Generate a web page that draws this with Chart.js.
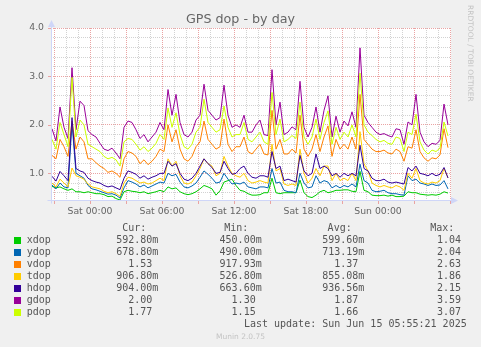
<!DOCTYPE html>
<html>
<head>
<meta charset="utf-8">
<script src="https://cdn.jsdelivr.net/npm/chart.js@4.4.0/dist/chart.umd.min.js"></script>
<style>
  html, body { margin: 0; padding: 0; background: #f0f0f0; }
  #wrap { position: relative; width: 481px; height: 347px; overflow: hidden; background: #f0f0f0; }
  #c { position: absolute; left: 0; top: 0; }
  .t { position: absolute; white-space: pre; }
  .mono { font-family: "DejaVu Sans Mono", monospace; font-size: 10px; line-height: 12px; color: #555; }
  #title { left: 0; width: 481px; top: 11px; text-align: center; font-family: "DejaVu Sans", sans-serif;
           font-size: 12.7px; line-height: 16px; color: #666; }
  #wm { left: 474.5px; top: 5px; transform: rotate(90deg); transform-origin: left top;
        font-family: "DejaVu Sans", sans-serif; font-size: 7.5px; line-height: 9px; color: #c4c4c4; }
  #ver { left: 0; width: 481px; top: 332px; text-align: center; font-family: "DejaVu Sans", sans-serif;
         font-size: 7.5px; line-height: 9px; color: #c4c4c4; }
  .sw { position: absolute; width: 7px; height: 7px; }
</style>
</head>
<body>
<div id="wrap">
  <canvas id="c" width="481" height="347"></canvas>
  <div id="title" class="t">GPS dop - by day</div>
  <div id="wm" class="t">RRDTOOL / TOBI OETIKER</div>
  <div id="legend"></div>
  <div id="ver" class="t">Munin 2.0.75</div>
</div>
<script>
// Sample times: minutes relative to Sat 00:00, one sample every 20 minutes
const startMinute = -190;
const stepMinutes = 20;

const seriesNames  = ['xdop', 'ydop', 'vdop', 'tdop', 'hdop', 'gdop', 'pdop'];
const seriesColors = ['#00CC00', '#0066B3', '#FF8000', '#FFCC00', '#330099', '#990099', '#CCFF00'];

const xdop = [0.73,0.70,0.72,0.68,0.65,0.68,0.62,0.62,0.60,0.62,
  0.60,0.58,0.58,0.56,0.52,0.53,0.48,0.45,0.62,
  0.65,0.63,0.62,0.60,0.62,0.58,0.60,0.62,0.65,
  0.62,0.72,0.68,0.70,0.62,0.58,0.56,0.58,0.62,
  0.68,0.75,0.72,0.68,0.55,0.64,0.82,0.85,0.88,
  0.75,0.65,0.63,0.58,0.55,0.55,0.56,0.60,0.60,
  0.90,0.60,0.58,0.60,0.60,0.60,0.60,0.86,0.60,
  0.52,0.50,0.55,0.62,0.65,0.60,0.62,0.65,0.65,
  0.66,0.66,0.63,0.62,1.04,0.65,0.62,0.55,0.54,
  0.54,0.55,0.53,0.55,0.52,0.52,0.53,0.62,0.60,
  0.60,0.57,0.56,0.55,0.56,0.55,0.57,0.62,0.5928];

const ydop = [0.76,0.68,0.80,0.72,0.70,2.04,1.00,0.95,0.90,0.75,
  0.68,0.66,0.63,0.60,0.57,0.58,0.55,0.49,0.70,
  0.85,0.82,0.78,0.72,0.76,0.70,0.74,0.78,0.82,
  0.80,1.00,0.95,0.98,0.82,0.72,0.70,0.74,0.80,
  0.92,1.05,0.98,0.90,0.80,0.82,1.00,0.88,0.78,
  0.80,0.78,0.82,0.72,0.70,0.68,0.72,0.72,0.70,
  1.10,0.80,0.82,0.65,0.62,0.62,0.60,1.00,0.80,
  0.70,0.72,0.95,0.80,0.85,0.82,0.70,0.75,0.70,
  0.75,0.72,0.78,0.72,1.19,0.85,0.80,0.65,0.62,
  0.63,0.65,0.60,0.58,0.58,0.56,0.55,0.95,0.85,
  0.88,0.80,0.78,0.75,0.78,0.75,0.76,0.85,0.6788];

const vdop = [1.37,1.30,1.70,1.55,1.35,2.08,1.50,1.75,1.65,1.30,
  1.30,1.22,1.15,1.10,1.02,1.05,1.00,0.918,1.30,
  1.45,1.42,1.35,1.20,1.28,1.18,1.25,1.35,1.50,
  1.45,2.00,1.65,1.90,1.50,1.30,1.25,1.35,1.55,
  1.65,2.08,1.70,1.60,1.50,1.55,2.12,1.60,1.45,
  1.55,1.55,1.75,1.45,1.40,1.50,1.60,1.40,1.38,
  2.30,1.50,1.70,1.40,1.40,1.50,1.42,2.20,1.50,
  1.35,1.50,1.80,1.45,1.75,1.98,1.35,1.70,1.50,
  1.60,1.50,1.75,1.50,2.63,1.70,1.60,1.50,1.45,
  1.45,1.48,1.42,1.40,1.50,1.45,1.25,1.55,1.52,
  1.90,1.45,1.32,1.25,1.32,1.30,1.38,1.92,1.53];

const tdop = [0.80,0.72,0.88,0.80,0.72,1.11,0.95,0.92,0.88,0.78,
  0.72,0.70,0.68,0.63,0.60,0.62,0.58,0.527,0.80,
  0.92,0.90,0.85,0.80,0.82,0.78,0.80,0.85,0.90,
  0.85,1.30,1.15,1.25,0.95,0.80,0.78,0.82,0.95,
  1.10,1.30,1.20,1.15,0.95,1.00,1.35,1.15,1.00,
  0.95,0.92,1.00,0.85,0.80,0.82,0.85,0.82,0.80,
  1.60,1.05,1.10,0.78,0.75,0.78,0.75,1.50,1.00,
  0.80,0.90,1.10,0.95,1.15,1.15,0.85,1.00,0.85,
  0.90,0.85,1.00,0.85,1.86,1.20,1.05,0.80,0.75,
  0.72,0.75,0.72,0.70,0.75,0.72,0.65,1.00,0.90,
  1.10,0.85,0.80,0.78,0.82,0.80,0.85,1.10,0.9068];

const hdop = [0.94,0.84,1.04,0.95,0.85,2.15,1.10,1.05,1.02,0.90,
  0.85,0.82,0.80,0.75,0.72,0.74,0.70,0.664,0.90,
  1.05,1.02,0.98,0.90,0.95,0.88,0.92,0.95,1.00,
  1.00,1.25,1.15,1.20,1.00,0.88,0.85,0.90,1.00,
  1.15,1.30,1.20,1.12,1.00,1.02,1.25,1.10,0.98,
  1.00,1.10,1.15,1.00,0.92,0.90,0.95,0.95,0.92,
  1.45,1.10,1.15,0.85,0.88,0.85,0.82,1.37,1.05,
  0.95,1.00,1.40,1.10,1.15,1.10,0.95,1.00,0.92,
  1.00,0.95,1.00,0.95,1.58,1.10,1.05,0.90,0.85,
  0.85,0.88,0.82,0.80,0.82,0.80,0.78,1.12,1.05,
  1.15,1.00,0.98,0.95,1.00,0.95,0.98,1.12,0.904];

const gdop = [1.92,1.67,2.37,1.95,1.72,3.18,1.90,2.49,2.40,1.88,
  1.80,1.75,1.62,1.50,1.47,1.52,1.42,1.30,1.95,
  2.08,2.05,1.90,1.72,1.80,1.65,1.75,1.85,2.05,
  1.90,2.73,2.20,2.63,2.05,1.80,1.75,1.85,2.10,
  2.20,2.84,2.30,2.20,2.10,2.15,2.82,2.20,1.95,
  2.00,1.95,2.20,1.85,1.85,2.00,2.10,1.80,1.78,
  3.14,2.00,2.47,1.80,1.85,1.96,1.90,2.90,1.95,
  1.75,1.95,2.37,1.85,2.30,2.60,1.75,2.18,1.85,
  2.08,1.98,2.27,1.95,3.59,2.20,2.05,1.95,1.85,
  1.80,1.82,1.78,1.75,1.92,1.90,1.60,2.06,2.00,
  2.63,1.85,1.65,1.55,1.62,1.60,1.68,2.43,2.00];

const pdop = [1.70,1.50,2.05,1.80,1.55,2.98,1.75,2.10,2.00,1.60,
  1.55,1.50,1.45,1.35,1.30,1.33,1.28,1.15,1.65,
  1.72,1.70,1.60,1.48,1.55,1.45,1.52,1.62,1.80,
  1.70,2.35,1.95,2.25,1.80,1.55,1.50,1.60,1.85,
  1.95,2.53,2.05,1.95,1.85,1.90,2.39,1.95,1.75,
  1.80,1.80,2.05,1.70,1.65,1.75,1.85,1.65,1.60,
  2.67,1.80,2.12,1.65,1.70,1.78,1.72,2.47,1.75,
  1.60,1.75,2.12,1.70,2.05,2.29,1.60,1.95,1.70,
  1.85,1.75,2.00,1.75,3.07,2.00,1.85,1.78,1.70,
  1.65,1.68,1.62,1.60,1.75,1.72,1.45,1.85,1.80,
  2.22,1.65,1.48,1.40,1.48,1.45,1.52,2.06,1.77];

// Legend statistics
const curText = ['592.80m', '678.80m', '1.53', '906.80m', '904.00m', '2.00', '1.77'];
const minText = ['450.00m', '490.00m', '917.93m', '526.80m', '663.60m', '1.30', '1.15'];
const avgText = ['599.60m', '713.19m', '1.37', '855.08m', '936.56m', '1.87', '1.66'];
const maxText = ['1.04', '2.04', '2.63', '1.86', '2.15', '3.59', '3.07'];
const lastUpdate = 'Last update: Sun Jun 15 05:55:21 2025';

// Axis ticks
const xTickMinutes = [0, 360, 720, 1080, 1440];
const xTickLabels  = ['Sat 00:00', 'Sat 06:00', 'Sat 12:00', 'Sat 18:00', 'Sun 00:00'];
const yTickValues  = [1, 2, 3, 4];
const yTickLabels  = ['1.0', '2.0', '3.0', '4.0'];

const MAJOR = '#eaa3a3';
const MINOR = '#d2d2d2';
const AXIS  = '#CFD6F8';

const series = [xdop, ydop, vdop, tdop, hdop, gdop, pdop];
const toPoints = arr => arr.map((v, i) => ({ x: startMinute + i * stepMinutes, y: v }));

const rrdFrame = {
  id: 'rrdFrame',
  beforeDraw(chart) {
    const { ctx, chartArea: a } = chart;
    ctx.save();
    ctx.fillStyle = '#f0f0f0';
    ctx.fillRect(0, 0, chart.width, chart.height);
    ctx.fillStyle = '#ffffff';
    ctx.fillRect(a.left, a.top, a.right - a.left, a.bottom - a.top);
    ctx.restore();
  },
  afterDraw(chart) {
    const { ctx, chartArea: a, scales } = chart;
    ctx.save();
    // short marks on major grid positions
    ctx.lineWidth = 1;
    ctx.strokeStyle = MAJOR;
    scales.x.ticks.forEach(t => {
      if (t.value % 180 === 0) {
        const px = Math.round(scales.x.getPixelForValue(t.value)) + 0.5;
        ctx.beginPath(); ctx.moveTo(px, a.bottom); ctx.lineTo(px, a.bottom + 4); ctx.stroke();
      }
    });
    yTickValues.forEach(v => {
      const py = Math.round(scales.y.getPixelForValue(v)) + 0.5;
      ctx.beginPath(); ctx.moveTo(a.left - 3, py); ctx.lineTo(a.left, py); ctx.stroke();
    });
    // axes
    ctx.strokeStyle = AXIS;
    ctx.fillStyle = AXIS;
    const ax = Math.round(a.left) + 0.5;
    const ay = Math.round(a.bottom) + 0.5;
    ctx.beginPath(); ctx.moveTo(ax, ay + 3); ctx.lineTo(ax, a.top - 2); ctx.stroke();
    ctx.beginPath(); ctx.moveTo(ax - 4, ay); ctx.lineTo(a.right + 1, ay); ctx.stroke();
    // arrow heads
    ctx.beginPath();
    ctx.moveTo(ax, a.top - 8); ctx.lineTo(ax - 3.5, a.top - 1); ctx.lineTo(ax + 3.5, a.top - 1);
    ctx.closePath(); ctx.fill();
    ctx.beginPath();
    ctx.moveTo(a.right + 7, ay); ctx.lineTo(a.right, ay - 3.5); ctx.lineTo(a.right, ay + 3.5);
    ctx.closePath(); ctx.fill();
    ctx.restore();
  }
};

new Chart(document.getElementById('c'), {
  type: 'line',
  data: {
    datasets: series.map((d, i) => ({
      label: seriesNames[i],
      data: toPoints(d),
      borderColor: seriesColors[i],
      backgroundColor: seriesColors[i],
      borderWidth: 1,
      borderJoinStyle: 'round',
      pointRadius: 0,
      tension: 0,
      fill: false,
      order: series.length - 1 - i
    }))
  },
  options: {
    responsive: false,
    animation: false,
    devicePixelRatio: 1,
    events: [],
    layout: { padding: { left: 0, right: 30, top: 28, bottom: 127 } },
    plugins: { legend: { display: false }, tooltip: { enabled: false }, title: { display: false } },
    scales: {
      x: {
        type: 'linear',
        min: -195,
        max: 1805,
        afterBuildTicks: s => {
          const t = [];
          for (let m = -180; m <= 1800; m += 60) t.push({ value: m });
          s.ticks = t;
        },
        afterFit: s => { s.height = 20; },
        grid: {
          drawTicks: false,
          lineWidth: 1,
          color: c => (c.tick && c.tick.value % 180 === 0) ? MAJOR : MINOR
        },
        border: { display: false, dash: [1, 1] },
        ticks: {
          autoSkip: false,
          maxRotation: 0,
          padding: 6,
          color: '#666',
          font: { family: 'DejaVu Sans', size: 9.3 },
          callback: v => {
            const j = xTickMinutes.indexOf(v);
            return j >= 0 ? xTickLabels[j] : '';
          }
        }
      },
      y: {
        type: 'linear',
        min: 0.45,
        max: 4.0,
        afterBuildTicks: s => {
          const t = [];
          for (let j = 3; j <= 20; j++) t.push({ value: j / 5 });
          s.ticks = t;
        },
        afterFit: s => { s.width = 51; },
        grid: {
          drawTicks: false,
          lineWidth: 1,
          color: c => (c.tick && Math.abs(c.tick.value - Math.round(c.tick.value)) < 1e-6) ? MAJOR : MINOR
        },
        border: { display: false, dash: [1, 1] },
        ticks: {
          autoSkip: false,
          padding: 7,
          color: '#666',
          font: { family: 'DejaVu Sans', size: 9.3 },
          callback: v => {
            const j = yTickValues.findIndex(y => Math.abs(y - v) < 1e-6);
            return j >= 0 ? yTickLabels[j] : '';
          }
        }
      }
    }
  },
  plugins: [rrdFrame]
});

// Legend table below the plot
const legend = document.getElementById('legend');
function put(text, opts) {
  const el = document.createElement('div');
  el.className = 't mono';
  el.textContent = text;
  if (opts.left !== undefined) el.style.left = opts.left + 'px';
  if (opts.right !== undefined) { el.style.right = (481 - opts.right) + 'px'; el.style.textAlign = 'right'; }
  el.style.top = opts.top + 'px';
  legend.appendChild(el);
}
const headerTop = 221.5;
put('Cur:', { right: 146.3, top: headerTop });
put('Min:', { right: 248.3, top: headerTop });
put('Avg:', { right: 351.7, top: headerTop });
put('Max:', { right: 454.3, top: headerTop });
const pad = s => /m$/.test(s) ? s : s + ' ';
seriesNames.forEach((name, i) => {
  const center = 240 + 12 * i;
  const top = center - 5.8;
  const sw = document.createElement('div');
  sw.className = 'sw';
  sw.style.left = '14px';
  sw.style.top = (center - 3.5) + 'px';
  sw.style.background = seriesColors[i];
  legend.appendChild(sw);
  put(name, { left: 26.7, top });
  put(pad(curText[i]), { right: 158.3, top });
  put(pad(minText[i]), { right: 261.7, top });
  put(pad(avgText[i]), { right: 364.3, top });
  put(pad(maxText[i]), { right: 467, top });
});
put(lastUpdate, { right: 466.7, top: 317.5 });
</script>
</body>
</html>
